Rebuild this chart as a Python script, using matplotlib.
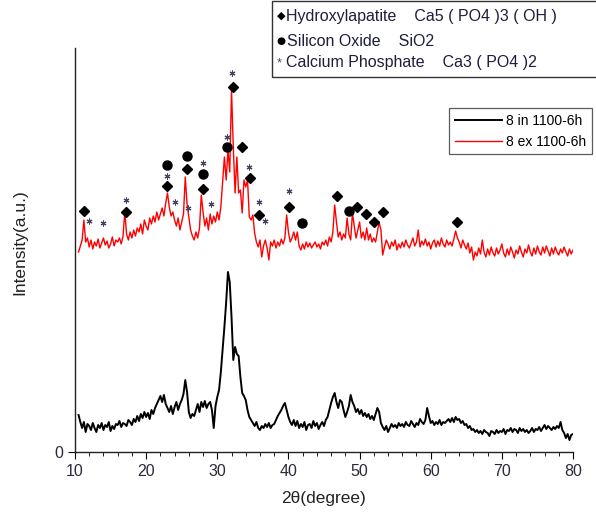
import numpy as np
import matplotlib
matplotlib.use("Agg")
import matplotlib.pyplot as plt
from matplotlib.patches import Rectangle

plt.rcParams['font.family'] = ['Liberation Sans', 'DejaVu Sans']

# ---------------- data ----------------
two_theta = np.arange(10.5, 80.001, 0.25)

black_in = [37, 30,
    24, 30, 20, 28,  26, 22, 29, 24,  20, 27, 24, 29,  22, 27, 25, 30,
    21, 26, 23, 28,  27, 31, 25, 29,  28, 26, 32, 30,  27, 33, 30, 36,
    31, 38, 34, 40,  35, 39, 33, 42,  38, 44, 48, 52,  56, 50, 57, 48,
    44, 40, 46, 38,  45, 50, 42, 48,  52, 58, 72, 60,  40, 34, 38, 36,
    42, 48, 40, 50,  45, 51, 44, 48,  50, 42, 24, 46,  55, 62, 80, 102,
    125, 150, 180, 170,  135, 92, 105, 98,  96, 75, 59, 56,  52, 42, 35, 32,
    29, 26, 30, 24,  22, 26, 24, 28,  25, 29, 24, 27,  28, 32, 36, 39,
    42, 46, 49, 42,  35, 30, 27, 32,  26, 31, 24, 28,  25, 30, 22, 27,
    28, 24, 31, 26,  29, 23, 27, 30,  26, 32, 35, 42,  49, 55, 59, 50,
    44, 52, 50, 42,  35, 40, 46, 57,  50, 46, 40, 43,  38, 42, 36, 39,
    35, 38, 33, 36,  32, 38, 44, 40,  29, 25, 22, 26,  20, 24, 28, 25,
    27, 24, 29, 26,  28, 25, 30, 27,  26, 31, 28, 25,  29, 27, 33, 30,
    28, 32, 44, 36,  29, 31, 27, 30,  28, 32, 27, 30,  29, 31, 33, 30,
    34, 30, 35, 32,  33, 29, 31, 27,  28, 24, 26, 22,  23, 20, 22, 19,
    21, 18, 22, 20,  19, 16, 21, 20,  18, 22, 19, 21,  20, 23, 18, 22,
    21, 24, 20, 23,  22, 19, 24, 21,  23, 20, 22, 19,  21, 24, 20, 23,
    22, 25, 21, 24,  27, 23, 26, 24,  22, 25, 23, 26,  24, 30, 22, 19,
    14, 18, 12, 17,  18]

red_ex = [200, 206,
    212, 232, 210, 214,  205, 212, 203, 210,  206, 213, 204, 209,  214, 207, 211, 204,
    208, 215, 206, 212,  210, 214, 208, 216,  240, 218, 212, 220,  214, 222, 216, 224,
    220, 228, 218, 232,  226, 222, 234, 228,  236, 230, 240, 232,  238, 244, 236, 249,
    259, 245, 236, 240,  232, 226, 234, 222,  230, 238, 275, 248,  235, 222, 216, 212,
    220, 214, 224, 257,  240, 226, 234, 222,  238, 228, 236, 230,  240, 232, 245, 270,
    295, 272, 302, 280,  362, 305, 259, 295,  259, 262, 239, 272,  265, 272, 235, 232,
    237, 219, 210, 205,  212, 195, 206, 212,  204, 192, 210, 206,  212, 204, 210, 206,
    213, 208, 214, 237,  220, 210, 214, 220,  212, 220, 206, 202,  208, 203, 210, 205,
    209, 204, 207, 210,  205, 208, 203, 210,  207, 212, 206, 215,  210, 220, 247, 230,
    215, 220, 212, 218,  214, 234, 218, 212,  239, 226, 214, 222,  230, 214, 220, 212,
    224, 212, 218, 210,  214, 210, 220, 230,  222, 197, 205, 212,  208, 203, 210, 206,
    212, 202, 208, 204,  210, 205, 212, 207,  204, 209, 214, 206,  210, 222, 205, 211,
    207, 213, 206, 210,  203, 209, 212, 205,  211, 206, 214, 208,  205, 212, 207, 210,
    206, 213, 221, 214,  210, 204, 212, 207,  203, 209, 199, 205,  192, 200, 196, 204,
    198, 212, 200, 195,  203, 197, 205, 199,  196, 204, 198, 202,  208, 199, 195, 203,
    197, 205, 200, 194,  202, 198, 206, 200,  195, 203, 199, 207,  200, 196, 204, 198,
    206, 200, 197, 205,  199, 206, 201, 196,  204, 198, 205, 200,  197, 203, 199, 205,
    200, 196, 203, 198,  202]

# phase marker positions (2theta, intensity)
hap_x = [11.3, 17.1, 23.0, 25.7, 28.0, 32.2, 33.5, 34.6, 35.8, 40.1, 46.8, 49.6, 50.9, 52.0, 53.3, 63.7]
hap_y = [241, 240, 266, 283, 263, 365, 305, 274, 237, 245, 256, 245, 238, 230, 240, 230]
sio_x = [23.0, 25.7, 28.0, 31.4, 41.9, 48.5]
sio_y = [287, 296, 278, 305, 229, 241]
cap_x = [12.0, 14.0, 17.1, 23.0, 24.1, 25.9, 28.0, 29.1, 31.4, 32.1, 34.5, 35.8, 36.7, 40.1]
cap_y = [231, 229, 252, 276, 250, 244, 289, 248, 315, 379, 285, 250, 231, 261]

ylim_top = 404

# ---------------- figure ----------------
fig = plt.figure(figsize=(5.96, 5.18), dpi=100)
ax = fig.add_axes([75/596, 66/518, 498/596, 404/518])

ax.plot(two_theta, black_in, color="black", lw=1.4, label="8 in 1100-6h")
ax.plot(two_theta, red_ex, color="#ff0000", lw=1.0, label="8 ex 1100-6h")

ax.plot(hap_x, hap_y, "D", color="black", ms=5.5, ls="none")
ax.plot(sio_x, sio_y, "o", color="black", ms=6.5, ls="none")
ax.plot(cap_x, cap_y, ls="none", marker=(6, 2, 0), color="#4a4060", ms=4.2, mew=0.8)

ax.set_xlim(10, 80)
ax.set_ylim(0, ylim_top)
ax.set_xticks(np.arange(10, 81, 10))
ax.set_xticks(np.arange(10, 81, 2), minor=True)
ax.set_yticks([0])
for s in ("top", "right"):
    ax.spines[s].set_visible(False)
for s in ("left", "bottom"):
    ax.spines[s].set_color("#222222")
    ax.spines[s].set_linewidth(1.0)
ax.tick_params(axis="x", which="major", direction="out", length=5, labelsize=11.5,
               labelcolor="#2a2a3a", pad=4)
ax.tick_params(axis="x", which="minor", direction="out", length=3)
ax.tick_params(axis="y", direction="out", length=5, labelsize=11.5, labelcolor="#2a2a3a")

ax.set_xlabel("2θ(degree)", fontsize=12.5, color="#222222", labelpad=8)
ax.set_ylabel("Intensity(a.u.)", fontsize=12.5, color="#222222")
ax.yaxis.set_label_coords(-0.095, 0.52)

# sample legend
leg = ax.legend(loc="upper right", bbox_to_anchor=(1.038, 0.851), fontsize=10,
                frameon=True, fancybox=False, edgecolor="#333333",
                handlelength=3.4, handletextpad=0.3, borderpad=0.4,
                labelspacing=0.5, borderaxespad=0)
leg.get_frame().set_linewidth(0.9)

# phase legend box
fig.patches.append(Rectangle((272/596, 1 - 77/518), 330/596, 76/518,
                             transform=fig.transFigure, fill=False,
                             edgecolor="#333333", lw=1.0))
tc = "#1e1e3c"
fs = 11.5
fig.text(277/596, 1 - 16/518, "◆", fontsize=8, color="black", va="center", ha="left",
         family="DejaVu Sans")
fig.text(286/596, 1 - 16/518, "Hydroxylapatite    Ca5 ( PO4 )3 ( OH )", fontsize=fs,
         color=tc, va="center", ha="left")
fig.text(276/596, 1 - 41/518, "●", fontsize=7.5, color="black", va="center", ha="left",
         family="DejaVu Sans")
fig.text(287/596, 1 - 41/518, "Silicon Oxide    SiO2", fontsize=fs,
         color=tc, va="center", ha="left")
fig.text(277/596, 1 - 63/518, "*", fontsize=9, color="#4a4060", va="center", ha="left")
fig.text(286/596, 1 - 63/518, "Calcium Phosphate    Ca3 ( PO4 )2", fontsize=fs,
         color=tc, va="center", ha="left")

fig.savefig("out.png", dpi=100)
